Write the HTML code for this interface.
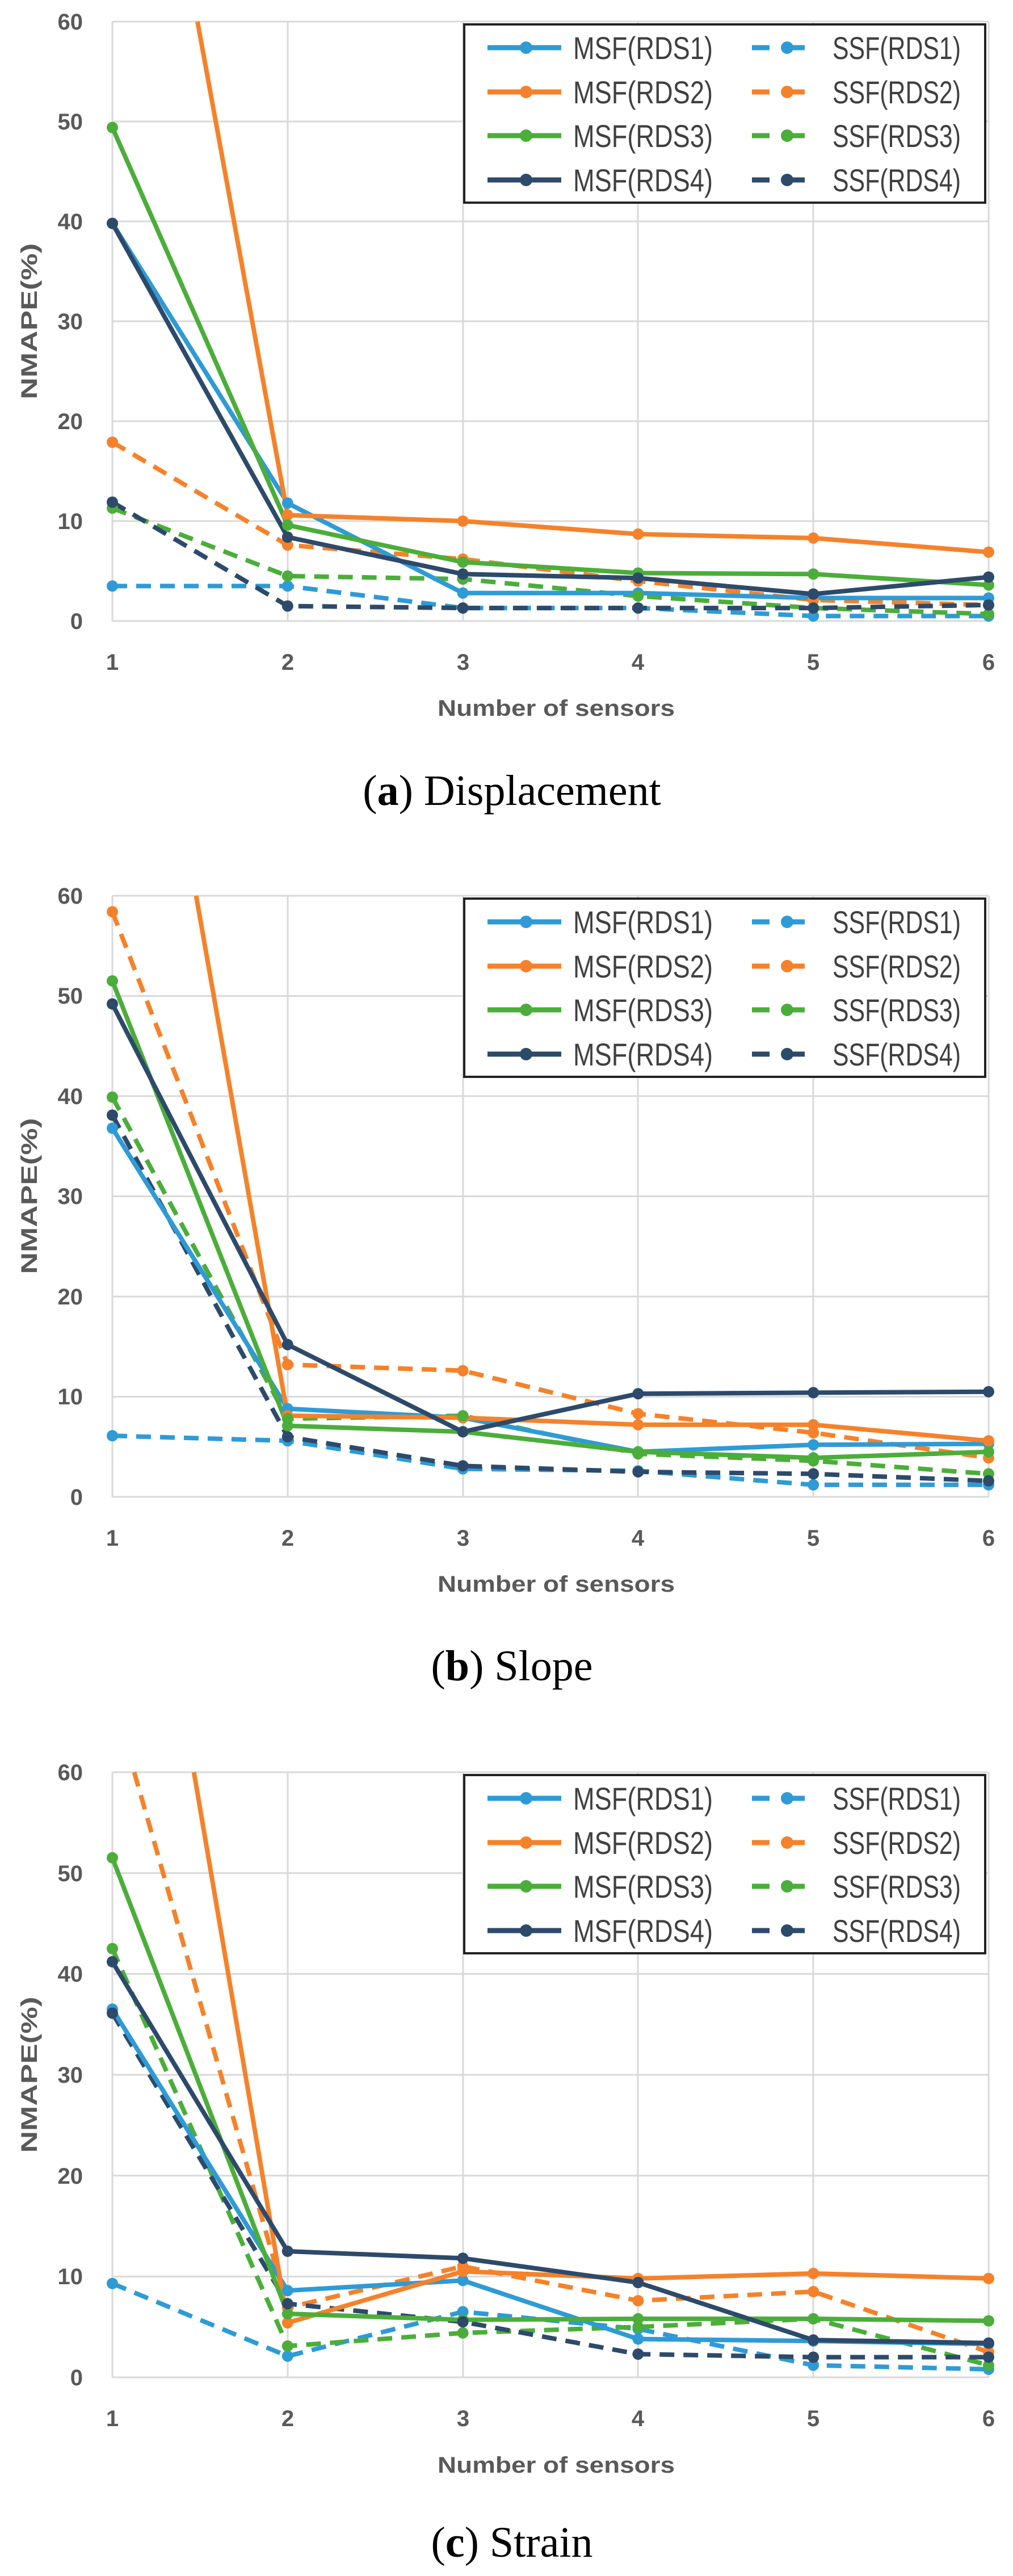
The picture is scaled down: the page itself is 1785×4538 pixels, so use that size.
<!DOCTYPE html>
<html><head><meta charset="utf-8"><style>
html,body{margin:0;padding:0;background:#fff}
svg{display:block}
.tk{font-family:"Liberation Sans",sans-serif;font-weight:bold;font-size:40px;fill:#595959}
.at{font-family:"Liberation Sans",sans-serif;font-weight:bold;font-size:40px;fill:#595959}
.lg{font-family:"Liberation Sans",sans-serif;font-size:56px;fill:#404040}
.cap{font-family:"Liberation Serif",serif;font-size:76px;fill:#000}
.gr{stroke:#d9d9d9;stroke-width:3;fill:none}
.s{fill:none;stroke-width:8;stroke-linejoin:round}
.d{fill:none;stroke-width:8;stroke-dasharray:26 16}
</style></head><body>
<svg width="1785" height="4538" xmlns="http://www.w3.org/2000/svg">
<defs>
<g id="xt">
<text class="tk" x="198" y="0" text-anchor="middle">1</text>
<text class="tk" x="507" y="0" text-anchor="middle">2</text>
<text class="tk" x="816" y="0" text-anchor="middle">3</text>
<text class="tk" x="1124" y="0" text-anchor="middle">4</text>
<text class="tk" x="1433" y="0" text-anchor="middle">5</text>
<text class="tk" x="1742" y="0" text-anchor="middle">6</text>
</g>
<g id="leg">
<rect x="818" y="5" width="918" height="314" fill="#fff" stroke="#222" stroke-width="4"/>
<line x1="859" y1="46" x2="989" y2="46" stroke="#2E9BD6" stroke-width="9"/><circle cx="927" cy="46" r="11" fill="#2E9BD6"/>
<line x1="859" y1="124" x2="989" y2="124" stroke="#F5822A" stroke-width="9"/><circle cx="927" cy="124" r="11" fill="#F5822A"/>
<line x1="859" y1="201" x2="989" y2="201" stroke="#4BAE3A" stroke-width="9"/><circle cx="927" cy="201" r="11" fill="#4BAE3A"/>
<line x1="859" y1="279" x2="989" y2="279" stroke="#2D4A6B" stroke-width="9"/><circle cx="927" cy="279" r="11" fill="#2D4A6B"/>
<text class="lg" x="1010" y="66" textLength="246" lengthAdjust="spacingAndGlyphs">MSF(RDS1)</text>
<text class="lg" x="1010" y="144" textLength="246" lengthAdjust="spacingAndGlyphs">MSF(RDS2)</text>
<text class="lg" x="1010" y="221" textLength="246" lengthAdjust="spacingAndGlyphs">MSF(RDS3)</text>
<text class="lg" x="1010" y="299" textLength="246" lengthAdjust="spacingAndGlyphs">MSF(RDS4)</text>
<g stroke-width="9">
<line x1="1325" y1="46" x2="1356" y2="46" stroke="#2E9BD6"/><line x1="1380" y1="46" x2="1418" y2="46" stroke="#2E9BD6"/><circle cx="1387" cy="46" r="11" fill="#2E9BD6"/>
<line x1="1325" y1="124" x2="1356" y2="124" stroke="#F5822A"/><line x1="1380" y1="124" x2="1418" y2="124" stroke="#F5822A"/><circle cx="1387" cy="124" r="11" fill="#F5822A"/>
<line x1="1325" y1="201" x2="1356" y2="201" stroke="#4BAE3A"/><line x1="1380" y1="201" x2="1418" y2="201" stroke="#4BAE3A"/><circle cx="1387" cy="201" r="11" fill="#4BAE3A"/>
<line x1="1325" y1="279" x2="1356" y2="279" stroke="#2D4A6B"/><line x1="1380" y1="279" x2="1418" y2="279" stroke="#2D4A6B"/><circle cx="1387" cy="279" r="11" fill="#2D4A6B"/>
</g>
<text class="lg" x="1467" y="66" textLength="226" lengthAdjust="spacingAndGlyphs">SSF(RDS1)</text>
<text class="lg" x="1467" y="144" textLength="226" lengthAdjust="spacingAndGlyphs">SSF(RDS2)</text>
<text class="lg" x="1467" y="221" textLength="226" lengthAdjust="spacingAndGlyphs">SSF(RDS3)</text>
<text class="lg" x="1467" y="299" textLength="226" lengthAdjust="spacingAndGlyphs">SSF(RDS4)</text>
</g>
</defs>

<!-- ========== Chart a ========== -->
<g class="gr">
<line x1="198" y1="38" x2="1742" y2="38"/><line x1="198" y1="214" x2="1742" y2="214"/><line x1="198" y1="390" x2="1742" y2="390"/><line x1="198" y1="566" x2="1742" y2="566"/><line x1="198" y1="742" x2="1742" y2="742"/><line x1="198" y1="918" x2="1742" y2="918"/><line x1="198" y1="1094" x2="1742" y2="1094"/>
<line x1="198" y1="38" x2="198" y2="1094"/><line x1="507" y1="38" x2="507" y2="1094"/><line x1="816" y1="38" x2="816" y2="1094"/><line x1="1124" y1="38" x2="1124" y2="1094"/><line x1="1433" y1="38" x2="1433" y2="1094"/><line x1="1742" y1="38" x2="1742" y2="1094"/>
</g>
<g class="tk" text-anchor="end">
<text x="146" y="52">60</text><text x="146" y="228">50</text><text x="146" y="404">40</text><text x="146" y="580">30</text><text x="146" y="756">20</text><text x="146" y="932">10</text><text x="146" y="1108">0</text>
</g>
<use href="#xt" y="1180"/>
<text class="at" x="980" y="1261" text-anchor="middle" textLength="418" lengthAdjust="spacingAndGlyphs">Number of sensors</text>
<text class="at" transform="translate(65,566) rotate(-90)" text-anchor="middle" textLength="275" lengthAdjust="spacingAndGlyphs">NMAPE(%)</text>

<g>
<polyline class="d" stroke="#2E9BD6" points="198,1032.4 506.8,1032.4 815.6,1071.1 1124.4,1071.1 1433.2,1085.2 1742,1085.2"/>
<polyline class="d" stroke="#F5822A" points="198,779 506.8,960.2 815.6,984.9 1124.4,1023.6 1433.2,1057 1742,1065.8"/>
<polyline class="d" stroke="#4BAE3A" points="198,895.1 506.8,1014.8 815.6,1020.1 1124.4,1050 1433.2,1071.1 1742,1081.7"/>
<polyline class="d" stroke="#2D4A6B" points="198,884.6 506.8,1067.6 815.6,1071.1 1124.4,1071.1 1433.2,1071.1 1742,1065.8"/>
<polyline class="s" stroke="#2E9BD6" points="198,393.5 506.8,886.3 815.6,1044.7 1124.4,1044.7 1433.2,1053.5 1742,1053.5"/>
<polyline class="s" stroke="#F5822A" points="348,38 506.8,907.4 815.6,918 1124.4,940.9 1433.2,947.9 1742,972.6"/>
<polyline class="s" stroke="#4BAE3A" points="198,224.6 506.8,925 815.6,990.2 1124.4,1009.5 1433.2,1011.3 1742,1030.6"/>
<polyline class="s" stroke="#2D4A6B" points="198,393.5 506.8,946.2 815.6,1011.3 1124.4,1018.3 1433.2,1046.5 1742,1016.6"/>
<g fill="#2E9BD6"><circle cx="198" cy="1032.4" r="10"/><circle cx="506.8" cy="1032.4" r="10"/><circle cx="815.6" cy="1071.1" r="10"/><circle cx="1124.4" cy="1071.1" r="10"/><circle cx="1433.2" cy="1085.2" r="10"/><circle cx="1742" cy="1085.2" r="10"/>
<circle cx="198" cy="393.5" r="10"/><circle cx="506.8" cy="886.3" r="10"/><circle cx="815.6" cy="1044.7" r="10"/><circle cx="1124.4" cy="1044.7" r="10"/><circle cx="1433.2" cy="1053.5" r="10"/><circle cx="1742" cy="1053.5" r="10"/></g>
<g fill="#F5822A"><circle cx="198" cy="779" r="10"/><circle cx="506.8" cy="960.2" r="10"/><circle cx="815.6" cy="984.9" r="10"/><circle cx="1124.4" cy="1023.6" r="10"/><circle cx="1433.2" cy="1057" r="10"/><circle cx="1742" cy="1065.8" r="10"/>
<circle cx="506.8" cy="907.4" r="10"/><circle cx="815.6" cy="918" r="10"/><circle cx="1124.4" cy="940.9" r="10"/><circle cx="1433.2" cy="947.9" r="10"/><circle cx="1742" cy="972.6" r="10"/></g>
<g fill="#4BAE3A"><circle cx="198" cy="895.1" r="10"/><circle cx="506.8" cy="1014.8" r="10"/><circle cx="815.6" cy="1020.1" r="10"/><circle cx="1124.4" cy="1050" r="10"/><circle cx="1433.2" cy="1071.1" r="10"/><circle cx="1742" cy="1081.7" r="10"/>
<circle cx="198" cy="224.6" r="10"/><circle cx="506.8" cy="925" r="10"/><circle cx="815.6" cy="990.2" r="10"/><circle cx="1124.4" cy="1009.5" r="10"/><circle cx="1433.2" cy="1011.3" r="10"/><circle cx="1742" cy="1030.6" r="10"/></g>
<g fill="#2D4A6B"><circle cx="198" cy="884.6" r="10"/><circle cx="506.8" cy="1067.6" r="10"/><circle cx="815.6" cy="1071.1" r="10"/><circle cx="1124.4" cy="1071.1" r="10"/><circle cx="1433.2" cy="1071.1" r="10"/><circle cx="1742" cy="1065.8" r="10"/>
<circle cx="198" cy="393.5" r="10"/><circle cx="506.8" cy="946.2" r="10"/><circle cx="815.6" cy="1011.3" r="10"/><circle cx="1124.4" cy="1018.3" r="10"/><circle cx="1433.2" cy="1046.5" r="10"/><circle cx="1742" cy="1016.6" r="10"/></g>
</g>
<use href="#leg" y="38"/>
<text class="cap" x="902" y="1418" text-anchor="middle">(<tspan font-weight="bold">a</tspan>) Displacement</text>

<!-- ========== Chart b ========== -->
<g class="gr">
<line x1="198" y1="1578" x2="1742" y2="1578"/><line x1="198" y1="1754.5" x2="1742" y2="1754.5"/><line x1="198" y1="1931" x2="1742" y2="1931"/><line x1="198" y1="2107.5" x2="1742" y2="2107.5"/><line x1="198" y1="2284" x2="1742" y2="2284"/><line x1="198" y1="2460.5" x2="1742" y2="2460.5"/><line x1="198" y1="2637" x2="1742" y2="2637"/>
<line x1="198" y1="1578" x2="198" y2="2637"/><line x1="507" y1="1578" x2="507" y2="2637"/><line x1="816" y1="1578" x2="816" y2="2637"/><line x1="1124" y1="1578" x2="1124" y2="2637"/><line x1="1433" y1="1578" x2="1433" y2="2637"/><line x1="1742" y1="1578" x2="1742" y2="2637"/>
</g>
<g class="tk" text-anchor="end">
<text x="146" y="1592">60</text><text x="146" y="1768">50</text><text x="146" y="1945">40</text><text x="146" y="2121">30</text><text x="146" y="2298">20</text><text x="146" y="2474">10</text><text x="146" y="2651">0</text>
</g>
<use href="#xt" y="2723"/>
<text class="at" x="980" y="2804" text-anchor="middle" textLength="418" lengthAdjust="spacingAndGlyphs">Number of sensors</text>
<text class="at" transform="translate(65,2107) rotate(-90)" text-anchor="middle" textLength="275" lengthAdjust="spacingAndGlyphs">NMAPE(%)</text>
<g>
<polyline class="d" stroke="#2E9BD6" points="198,2529.3 506.8,2538.2 815.6,2587.6 1124.4,2591.1 1433.2,2615.8 1742,2615.8"/>
<polyline class="d" stroke="#F5822A" points="198,1606.2 506.8,2404 815.6,2414.6 1124.4,2490.5 1433.2,2524 1742,2568.2"/>
<polyline class="d" stroke="#4BAE3A" points="198,1932.8 506.8,2499.3 815.6,2494 1124.4,2561.1 1433.2,2573.5 1742,2596.4"/>
<polyline class="d" stroke="#2D4A6B" points="198,1964.5 506.8,2531.1 815.6,2582.3 1124.4,2592.9 1433.2,2596.4 1742,2608.8"/>
<polyline class="s" stroke="#2E9BD6" points="198,1987.5 506.8,2481.7 815.6,2497.6 1124.4,2557.6 1433.2,2545.2 1742,2543.5"/>
<polyline class="s" stroke="#F5822A" points="345.6,1578 506.8,2494 815.6,2497.6 1124.4,2509.9 1433.2,2509.9 1742,2538.2"/>
<polyline class="s" stroke="#4BAE3A" points="198,1728 506.8,2511.7 815.6,2522.3 1124.4,2557.6 1433.2,2568.2 1742,2557.6"/>
<polyline class="s" stroke="#2D4A6B" points="198,1768.6 506.8,2368.7 815.6,2522.3 1124.4,2455.2 1433.2,2453.4 1742,2451.7"/>
<g fill="#2E9BD6"><circle cx="198" cy="2529.3" r="10"/><circle cx="506.8" cy="2538.2" r="10"/><circle cx="815.6" cy="2587.6" r="10"/><circle cx="1124.4" cy="2591.1" r="10"/><circle cx="1433.2" cy="2615.8" r="10"/><circle cx="1742" cy="2615.8" r="10"/>
<circle cx="198" cy="1987.5" r="10"/><circle cx="506.8" cy="2481.7" r="10"/><circle cx="815.6" cy="2497.6" r="10"/><circle cx="1124.4" cy="2557.6" r="10"/><circle cx="1433.2" cy="2545.2" r="10"/><circle cx="1742" cy="2543.5" r="10"/></g>
<g fill="#F5822A"><circle cx="198" cy="1606.2" r="10"/><circle cx="506.8" cy="2404" r="10"/><circle cx="815.6" cy="2414.6" r="10"/><circle cx="1124.4" cy="2490.5" r="10"/><circle cx="1433.2" cy="2524" r="10"/><circle cx="1742" cy="2568.2" r="10"/>
<circle cx="506.8" cy="2494" r="10"/><circle cx="815.6" cy="2497.6" r="10"/><circle cx="1124.4" cy="2509.9" r="10"/><circle cx="1433.2" cy="2509.9" r="10"/><circle cx="1742" cy="2538.2" r="10"/></g>
<g fill="#4BAE3A"><circle cx="198" cy="1932.8" r="10"/><circle cx="506.8" cy="2499.3" r="10"/><circle cx="815.6" cy="2494" r="10"/><circle cx="1124.4" cy="2561.1" r="10"/><circle cx="1433.2" cy="2573.5" r="10"/><circle cx="1742" cy="2596.4" r="10"/>
<circle cx="198" cy="1728" r="10"/><circle cx="506.8" cy="2511.7" r="10"/><circle cx="815.6" cy="2522.3" r="10"/><circle cx="1124.4" cy="2557.6" r="10"/><circle cx="1433.2" cy="2568.2" r="10"/><circle cx="1742" cy="2557.6" r="10"/></g>
<g fill="#2D4A6B"><circle cx="198" cy="1964.5" r="10"/><circle cx="506.8" cy="2531.1" r="10"/><circle cx="815.6" cy="2582.3" r="10"/><circle cx="1124.4" cy="2592.9" r="10"/><circle cx="1433.2" cy="2596.4" r="10"/><circle cx="1742" cy="2608.8" r="10"/>
<circle cx="198" cy="1768.6" r="10"/><circle cx="506.8" cy="2368.7" r="10"/><circle cx="815.6" cy="2522.3" r="10"/><circle cx="1124.4" cy="2455.2" r="10"/><circle cx="1433.2" cy="2453.4" r="10"/><circle cx="1742" cy="2451.7" r="10"/></g>
</g>
<use href="#leg" y="1578"/>
<text class="cap" x="902" y="2960" text-anchor="middle">(<tspan font-weight="bold">b</tspan>) Slope</text>

<!-- ========== Chart c ========== -->
<g class="gr">
<line x1="198" y1="3122" x2="1742" y2="3122"/><line x1="198" y1="3299.7" x2="1742" y2="3299.7"/><line x1="198" y1="3477.4" x2="1742" y2="3477.4"/><line x1="198" y1="3655.1" x2="1742" y2="3655.1"/><line x1="198" y1="3832.8" x2="1742" y2="3832.8"/><line x1="198" y1="4010.5" x2="1742" y2="4010.5"/><line x1="198" y1="4188" x2="1742" y2="4188"/>
<line x1="198" y1="3122" x2="198" y2="4188"/><line x1="507" y1="3122" x2="507" y2="4188"/><line x1="816" y1="3122" x2="816" y2="4188"/><line x1="1124" y1="3122" x2="1124" y2="4188"/><line x1="1433" y1="3122" x2="1433" y2="4188"/><line x1="1742" y1="3122" x2="1742" y2="4188"/>
</g>
<g class="tk" text-anchor="end">
<text x="146" y="3136">60</text><text x="146" y="3314">50</text><text x="146" y="3491">40</text><text x="146" y="3669">30</text><text x="146" y="3847">20</text><text x="146" y="4024">10</text><text x="146" y="4202">0</text>
</g>
<use href="#xt" y="4274"/>
<text class="at" x="980" y="4356" text-anchor="middle" textLength="418" lengthAdjust="spacingAndGlyphs">Number of sensors</text>
<text class="at" transform="translate(65,3655) rotate(-90)" text-anchor="middle" textLength="275" lengthAdjust="spacingAndGlyphs">NMAPE(%)</text>
<g>
<polyline class="d" stroke="#2E9BD6" points="198,4022.7 506.8,4150.7 815.6,4072.5 1124.4,4102.7 1433.2,4166.7 1742,4173.8"/>
<polyline class="d" stroke="#F5822A" points="236.5,3122 506.8,4065.4 815.6,3992.5 1124.4,4053 1433.2,4037 1742,4143.6"/>
<polyline class="d" stroke="#4BAE3A" points="198,3432.8 506.8,4132.9 815.6,4109.8 1124.4,4099.2 1433.2,4084.9 1742,4166.7"/>
<polyline class="d" stroke="#2D4A6B" points="198,3546.5 506.8,4058.3 815.6,4090.3 1124.4,4147.1 1433.2,4152.5 1742,4152.5"/>
<polyline class="s" stroke="#2E9BD6" points="198,3539.4 506.8,4035.2 815.6,4017.4 1124.4,4120.5 1433.2,4124 1742,4129.4"/>
<polyline class="s" stroke="#F5822A" points="341.7,3122 506.8,4092 815.6,4001.4 1124.4,4013.9 1433.2,4005 1742,4013.9"/>
<polyline class="s" stroke="#4BAE3A" points="198,3272.8 506.8,4076 815.6,4086.7 1124.4,4084.9 1433.2,4084.9 1742,4088.5"/>
<polyline class="s" stroke="#2D4A6B" points="198,3455.9 506.8,3965.9 815.6,3978.3 1124.4,4021 1433.2,4122.3 1742,4127.6"/>
<g fill="#2E9BD6"><circle cx="198" cy="4022.7" r="10"/><circle cx="506.8" cy="4150.7" r="10"/><circle cx="815.6" cy="4072.5" r="10"/><circle cx="1124.4" cy="4102.7" r="10"/><circle cx="1433.2" cy="4166.7" r="10"/><circle cx="1742" cy="4173.8" r="10"/>
<circle cx="198" cy="3539.4" r="10"/><circle cx="506.8" cy="4035.2" r="10"/><circle cx="815.6" cy="4017.4" r="10"/><circle cx="1124.4" cy="4120.5" r="10"/><circle cx="1433.2" cy="4124" r="10"/><circle cx="1742" cy="4129.4" r="10"/></g>
<g fill="#F5822A"><circle cx="506.8" cy="4065.4" r="10"/><circle cx="815.6" cy="3992.5" r="10"/><circle cx="1124.4" cy="4053" r="10"/><circle cx="1433.2" cy="4037" r="10"/><circle cx="1742" cy="4143.6" r="10"/>
<circle cx="506.8" cy="4092" r="10"/><circle cx="815.6" cy="4001.4" r="10"/><circle cx="1124.4" cy="4013.9" r="10"/><circle cx="1433.2" cy="4005" r="10"/><circle cx="1742" cy="4013.9" r="10"/></g>
<g fill="#4BAE3A"><circle cx="198" cy="3432.8" r="10"/><circle cx="506.8" cy="4132.9" r="10"/><circle cx="815.6" cy="4109.8" r="10"/><circle cx="1124.4" cy="4099.2" r="10"/><circle cx="1433.2" cy="4084.9" r="10"/><circle cx="1742" cy="4166.7" r="10"/>
<circle cx="198" cy="3272.8" r="10"/><circle cx="506.8" cy="4076" r="10"/><circle cx="815.6" cy="4086.7" r="10"/><circle cx="1124.4" cy="4084.9" r="10"/><circle cx="1433.2" cy="4084.9" r="10"/><circle cx="1742" cy="4088.5" r="10"/></g>
<g fill="#2D4A6B"><circle cx="198" cy="3546.5" r="10"/><circle cx="506.8" cy="4058.3" r="10"/><circle cx="815.6" cy="4090.3" r="10"/><circle cx="1124.4" cy="4147.1" r="10"/><circle cx="1433.2" cy="4152.5" r="10"/><circle cx="1742" cy="4152.5" r="10"/>
<circle cx="198" cy="3455.9" r="10"/><circle cx="506.8" cy="3965.9" r="10"/><circle cx="815.6" cy="3978.3" r="10"/><circle cx="1124.4" cy="4021" r="10"/><circle cx="1433.2" cy="4122.3" r="10"/><circle cx="1742" cy="4127.6" r="10"/></g>
</g>
<use href="#leg" y="3122"/>
<text class="cap" x="902" y="4504" text-anchor="middle">(<tspan font-weight="bold">c</tspan>) Strain</text>
</svg>
</body></html>
